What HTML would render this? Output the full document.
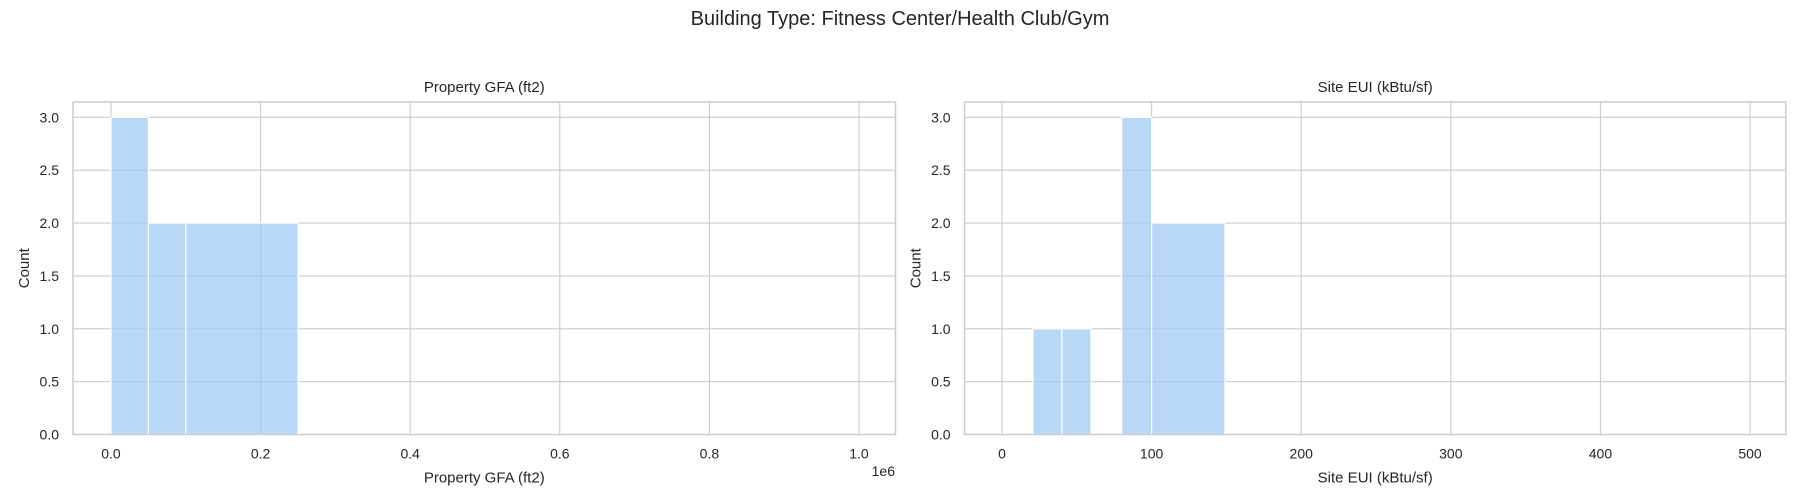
<!DOCTYPE html>
<html><head><meta charset="utf-8"><style>
html,body{margin:0;padding:0;background:#fff;}
svg{display:block;font-family:"Liberation Sans",Arial,sans-serif;}
</style></head><body>
<svg id="chart" width="1800" height="500" xmlns="http://www.w3.org/2000/svg">
<text x="900" y="25" text-anchor="middle" font-size="20" fill="#262626">Building Type: Fitness Center/Health Club/Gym</text>
</svg>
<script>
const leftBinStarts = [0, 0.05, 0.1];
const leftBinEnds = [0.05, 0.1, 0.25];
const leftCounts = [3, 2, 2];
const leftXTicks = [0, 0.2, 0.4, 0.6, 0.8, 1.0];
const leftXTickLabels = ["0.0", "0.2", "0.4", "0.6", "0.8", "1.0"];
const rightBinStarts = [20.7, 40, 80, 100];
const rightBinEnds = [40, 59.5, 100, 149];
const rightCounts = [1, 1, 3, 2];
const rightXTicks = [0, 100, 200, 300, 400, 500];
const rightXTickLabels = ["0", "100", "200", "300", "400", "500"];
const yTicks = [0, 0.5, 1, 1.5, 2, 2.5, 3];
const yTickLabels = ["0.0", "0.5", "1.0", "1.5", "2.0", "2.5", "3.0"];

const svg = document.getElementById('chart');
const NS = 'http://www.w3.org/2000/svg';
function mk(tag, attrs, parent){
  const e = document.createElementNS(NS, tag);
  for (const k in attrs) e.setAttribute(k, attrs[k]);
  (parent||svg).appendChild(e);
  return e;
}
function panel(cfg){
  const {L,R,T,B,xmin,xmax,ymin,ymax,starts,ends,counts,xt,xtl,title,xlabel,prefix} = cfg;
  const g = mk('g', {});
  
  
  const xs = v => L + (v - xmin) / (xmax - xmin) * (R - L);
  const ys = v => B - (v - ymin) / (ymax - ymin) * (B - T);
  // grid
  yTicks.forEach((t,i) => {
    const l = mk('line', {x1:L, x2:R, y1:ys(t), y2:ys(t), stroke:'#cccccc', 'stroke-width':1.1}, g);
    
    
    const tx = mk('text', {x:L-14, y:ys(t)+5, 'text-anchor':'end', 'font-size':14, fill:'#262626'}, g);
    tx.textContent = yTickLabels[i];
    
    
  });
  xt.forEach((t,i) => {
    const l = mk('line', {x1:xs(t), x2:xs(t), y1:T, y2:B, stroke:'#cccccc', 'stroke-width':1.1}, g);
    
    
    const tx = mk('text', {x:xs(t), y:B+24, 'text-anchor':'middle', 'font-size':14, fill:'#262626'}, g);
    tx.textContent = xtl[i];
    
    
  });
  // bars
  counts.forEach((c,i) => {
    const x0 = xs(starts[i]), x1 = xs(ends[i]);
    const r = mk('rect', {x:x0, y:ys(c), width:x1-x0, height:ys(0)-ys(c), fill:'rgba(161,201,244,0.75)', stroke:'#ffffff', 'stroke-width':1.2}, g);
    
    
  });
  const sp = mk('rect', {x:L, y:T, width:R-L, height:B-T, fill:'none', stroke:'#cccccc', 'stroke-width':1.5}, g);
  
  
  const tt = mk('text', {x:(L+R)/2, y:T-10, 'text-anchor':'middle', 'font-size':15, fill:'#262626'}, g);
  tt.textContent = title;
  
  
  const xl = mk('text', {x:(L+R)/2, y:B+48, 'text-anchor':'middle', 'font-size':15, fill:'#262626'}, g);
  xl.textContent = xlabel;
  
  
  const yl = mk('text', {x:0, y:0, 'text-anchor':'middle', 'font-size':15, fill:'#262626', transform:`translate(${L-44},${(T+B)/2}) rotate(-90)`}, g);
  yl.textContent = 'Count';
  
  
  return g;
}
panel({L:73,R:895.5,T:102,B:434.5,xmin:-0.0508,xmax:1.0488,ymin:0,ymax:3.145,starts:leftBinStarts,ends:leftBinEnds,counts:leftCounts,xt:leftXTicks,xtl:leftXTickLabels,title:'Property GFA (ft2)',xlabel:'Property GFA (ft2)',prefix:'gfa'});
panel({L:964.6,R:1785.8,T:102,B:434.5,xmin:-25,xmax:523.9,ymin:0,ymax:3.145,starts:rightBinStarts,ends:rightBinEnds,counts:rightCounts,xt:rightXTicks,xtl:rightXTickLabels,title:'Site EUI (kBtu/sf)',xlabel:'Site EUI (kBtu/sf)',prefix:'eui'});
const off = mk('text', {x:895, y:476, 'text-anchor':'end', 'font-size':14, fill:'#262626'});
off.textContent = '1e6';


</script>
</body></html>
